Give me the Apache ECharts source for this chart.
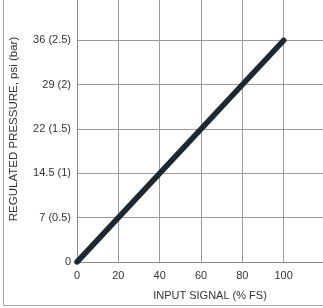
<!DOCTYPE html>
<html>
<head>
<meta charset="utf-8">
<script src="https://cdn.jsdelivr.net/npm/echarts@6/dist/echarts.min.js"></script>
<style>
  html, body { margin: 0; padding: 0; background: #fff; overflow: hidden; }
  #chart { width: 323px; height: 308px; }
</style>
</head>
<body>
<div id="chart"></div>
<script>
// input signal (% FS) vs regulated pressure (bar)
const inputSignal = [0, 100]
const pressureBar = [0, 2.5]

// y tick labels: bar value -> "psi (bar)"
const barTicks = [0, 0.5, 1, 1.5, 2, 2.5]
const tickLabels = ['0', '7 (0.5)', '14.5 (1)', '22 (1.5)', '29 (2)', '36 (2.5)']

const chart = echarts.init(document.getElementById('chart'))

chart.setOption({
  animation: false,
  grid: { left: 77, width: 248, bottom: 46, height: 266, outerBoundsMode: 'none', containLabel: false },
  graphic: [{
    type: 'polyline',
    shape: { points: [[3.5, 0], [3.5, 305.5], [323, 305.5]] },
    style: { fill: null, stroke: '#a8a8a8', lineWidth: 1 },
    silent: true
  }],
  xAxis: {
    type: 'value',
    min: 0,
    max: 120,
    interval: 20,
    name: 'INPUT SIGNAL (% FS)',
    nameLocation: 'middle',
    nameGap: 28,
    nameTextStyle: { color: '#333', fontSize: 11, fontFamily: 'Liberation Sans', padding: [0, 0, 0, 18] },
    axisLine: { lineStyle: { color: '#8a8a8a', width: 1 } },
    axisTick: { show: false },
    axisLabel: {
      color: '#333', fontSize: 11, fontFamily: 'Liberation Sans', margin: 8,
      formatter: v => (v <= 100 ? String(v) : '')
    },
    splitLine: { show: true, showMaxLine: false, lineStyle: { color: '#9a9a9a', width: 1 } }
  },
  yAxis: {
    type: 'value',
    min: 0,
    max: 3,
    interval: 0.5,
    name: 'REGULATED PRESSURE, psi (bar)',
    nameLocation: 'middle',
    nameGap: 57,
    nameTextStyle: { color: '#333', fontSize: 11.5, fontFamily: 'Liberation Sans' },
    axisLine: { show: true, lineStyle: { color: '#8a8a8a', width: 1 } },
    axisTick: { show: false },
    axisLabel: {
      color: '#333', fontSize: 11, fontFamily: 'Liberation Sans', margin: 6,
      formatter: v => {
        const i = barTicks.indexOf(v)
        return i >= 0 ? tickLabels[i] : ''
      }
    },
    splitLine: { show: true, showMaxLine: false, lineStyle: { color: '#9a9a9a', width: 1 } }
  },
  series: [{
    type: 'line',
    data: inputSignal.map((x, i) => [x, pressureBar[i]]),
    symbol: 'none',
    lineStyle: { color: '#1e2830', width: 5.5, cap: 'round' }
  }]
})
</script>
</body>
</html>
